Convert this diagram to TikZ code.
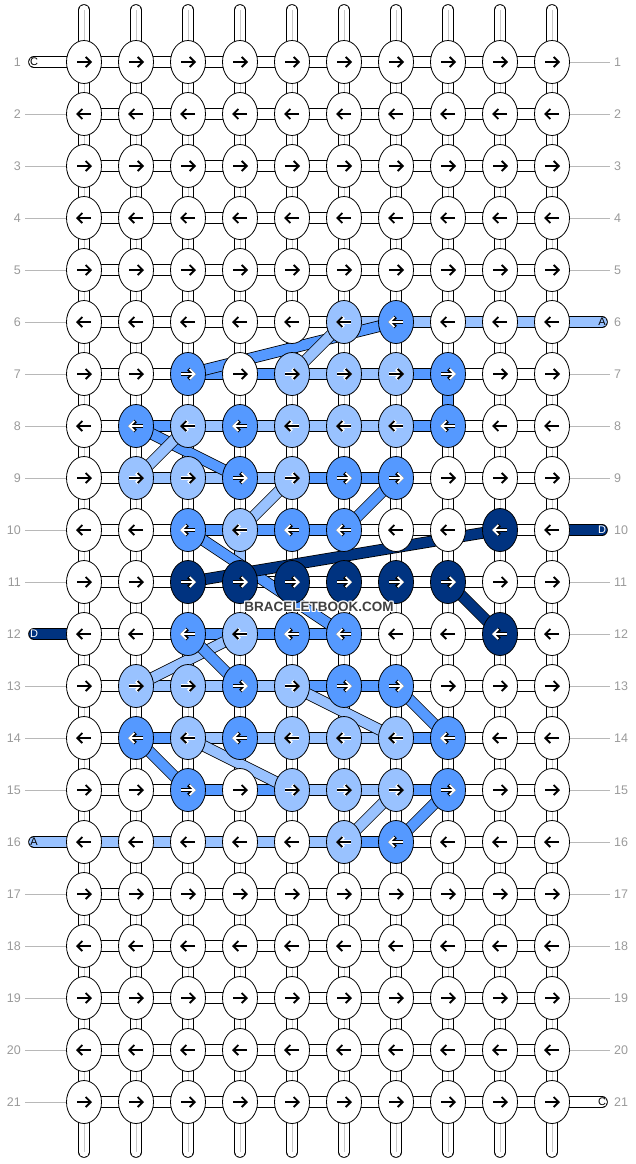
\documentclass[tikz,border=0pt]{standalone}
\usepackage{fontspec}
\setmainfont{Liberation Sans}
\usetikzlibrary{shapes.geometric,arrows.meta}
\definecolor{kW}{HTML}{FFFFFF}
\definecolor{kL}{HTML}{99C2FF}
\definecolor{kM}{HTML}{5599FF}
\definecolor{kN}{HTML}{003380}
\colorlet{haloW}{white}\colorlet{haloL}{white}
\colorlet{haloM}{black}\colorlet{haloN}{black}
\colorlet{arrW}{black}\colorlet{arrL}{black}
\colorlet{arrM}{white}\colorlet{arrN}{white}
\definecolor{labgray}{HTML}{9A9A9A}
\tikzset{
  knot/.style={ellipse, draw, line width=0.8pt, minimum width=35pt, minimum height=43pt, inner sep=0pt},
  tube/.style={double=#1, double distance=10pt, line width=0.8pt},
  tubemid/.style={draw=black!22, line width=0.6pt},
  arrhalo/.style={draw=halo#1, line width=3.6pt, -{Straight Barb[length=5pt,width=10pt]}},
  arrbody/.style={draw=arr#1, line width=1.8pt, -{Straight Barb[length=5pt,width=10pt]}},
  rowno/.style={text=labgray, font=\fontsize{12.5}{12.5}\selectfont, inner sep=0pt},
  labline/.style={draw=labgray!70, line width=0.7pt},
  endlab/.style={font=\fontsize{11}{11}\selectfont, inner sep=0pt},
  wm/.style={font=\fontsize{13.5}{13.5}\selectfont\bfseries, inner sep=0pt}
}
% knot colours / strand colours between neighbouring knots, row by row
\def\patternrows{
  1/{W,W,W,W,W,W,W,W,W,W}/{W,W,W,W,W,W,W,W,W},
  2/{W,W,W,W,W,W,W,W,W,W}/{W,W,W,W,W,W,W,W,W},
  3/{W,W,W,W,W,W,W,W,W,W}/{W,W,W,W,W,W,W,W,W},
  4/{W,W,W,W,W,W,W,W,W,W}/{W,W,W,W,W,W,W,W,W},
  5/{W,W,W,W,W,W,W,W,W,W}/{W,W,W,W,W,W,W,W,W},
  6/{W,W,W,W,W,L,M,W,W,W}/{W,W,W,W,W,L,L,L,L},
  7/{W,W,M,W,L,L,L,M,W,W}/{W,W,M,M,L,L,M,W,W},
  8/{W,M,L,M,L,L,L,M,W,W}/{W,M,L,L,L,L,M,W,W},
  9/{W,L,L,M,L,M,M,W,W,W}/{W,L,L,L,M,M,W,W,W},
  10/{W,W,M,L,M,M,W,W,N,W}/{W,W,M,M,M,W,W,W,W},
  11/{W,W,N,N,N,N,N,N,W,W}/{W,W,W,W,W,W,W,W,W},
  12/{W,W,M,L,M,M,W,W,N,W}/{W,W,M,M,M,W,W,W,W},
  13/{W,L,L,M,L,M,M,W,W,W}/{W,L,L,L,M,M,W,W,W},
  14/{W,M,L,M,L,L,L,M,W,W}/{W,M,L,L,L,L,M,W,W},
  15/{W,W,M,W,L,L,L,M,W,W}/{W,W,M,M,L,L,M,W,W},
  16/{W,W,W,W,W,L,M,W,W,W}/{L,L,L,L,L,M,W,W,W},
  17/{W,W,W,W,W,W,W,W,W,W}/{W,W,W,W,W,W,W,W,W},
  18/{W,W,W,W,W,W,W,W,W,W}/{W,W,W,W,W,W,W,W,W},
  19/{W,W,W,W,W,W,W,W,W,W}/{W,W,W,W,W,W,W,W,W},
  20/{W,W,W,W,W,W,W,W,W,W}/{W,W,W,W,W,W,W,W,W},
  21/{W,W,W,W,W,W,W,W,W,W}/{W,W,W,W,W,W,W,W,W}}
\begin{document}
\begin{tikzpicture}[x=1pt,y=-1pt]
  \useasboundingbox (0,0) rectangle (636,1164);
  % knot centres and loose ends
  \foreach \r in {1,...,21}
    \foreach \c in {1,...,10}
      \coordinate (k-\r-\c) at ({84+52*(\c-1)},{62+52*(\r-1)});
  \foreach \c in {1,...,10} {
    \coordinate (top-\c) at ({84+52*(\c-1)},10);
    \coordinate (bot-\c) at ({84+52*(\c-1)},1152);
  }
  \foreach \r in {1,12,16} \coordinate (el-\r) at (34,{62+52*(\r-1)});
  \foreach \r in {6,10,21} \coordinate (er-\r) at (602,{62+52*(\r-1)});
  % warp strands
  \foreach \c in {1,...,10} {
    \draw[tube=white, line cap=round] (top-\c) -- (k-1-\c);
    \draw[tube=white, line cap=round] (k-21-\c) -- (bot-\c);
    \draw[tubemid] (top-\c) -- (k-1-\c);
    \draw[tubemid] (k-21-\c) -- (bot-\c);
  }
  \foreach \r in {1,...,20} {
    \pgfmathtruncatemacro\rn{\r+1}
    \foreach \c in {1,...,10} {
      \draw[tube=white] (k-\r-\c) -- (k-\rn-\c);
      \draw[tubemid] (k-\r-\c) -- (k-\rn-\c);
    }
  }
  \draw[tube=kM] (k-7-8) -- (k-8-8);
  \draw[tube=kL] (k-10-4) -- (k-11-4);
  % working strands
  \foreach \r/\ks/\ss in \patternrows {
    \foreach \s [count=\c] in \ss {
      \pgfmathtruncatemacro\cn{\c+1}
      \draw[tube=k\s] (k-\r-\c) -- (k-\r-\cn);
    }
  }
  \foreach \r/\col in {1/kW, 12/kN, 16/kL}
    \draw[tube=\col, line cap=round] (el-\r) -- (k-\r-1);
  \foreach \r/\col in {6/kL, 10/kN, 21/kW}
    \draw[tube=\col, line cap=round] (k-\r-10) -- (er-\r);
  % jumps
  \foreach \a/\b/\col in {7-3/6-7/kM, 6-6/7-5/kL, 8-2/9-4/kM, 8-3/9-2/kL,
      9-5/10-4/kL, 9-7/10-6/kM, 10-3/12-6/kM, 10-9/11-3/kN, 11-8/12-9/kN,
      12-4/13-2/kL, 12-3/13-4/kM, 13-5/14-7/kL, 13-7/14-8/kM,
      14-2/15-3/kM, 14-3/15-5/kL, 15-7/16-6/kL, 15-8/16-7/kM}
    \draw[tube=\col] (k-\a) -- (k-\b);
  % knots with arrows
  \foreach \r/\ks/\ss in \patternrows {
    \ifodd\r \def\kdir{1}\else \def\kdir{-1}\fi
    \foreach \k [count=\c] in \ks {
      \node[knot, fill=k\k] (kn-\r-\c) at (k-\r-\c) {};
      \draw[arrhalo=\k] ([xshift={-7*\kdir}]kn-\r-\c.center) -- ([xshift={8*\kdir}]kn-\r-\c.center);
      \draw[arrbody=\k] ([xshift={-7*\kdir}]kn-\r-\c.center) -- ([xshift={8*\kdir}]kn-\r-\c.center);
    }
    \node[rowno, anchor=east] (nl-\r) at (21,{62+52*(\r-1)}) {\r};
    \node[rowno, anchor=west] (nr-\r) at (614,{62+52*(\r-1)}) {\r};
  }
  \foreach \r/\txt/\tc in {1/C/black, 12/D/white, 16/A/black}
    \node[endlab, text=\tc] (ell-\r) at (el-\r) {\txt};
  \foreach \r/\txt/\tc in {6/A/black, 10/D/white, 21/C/black}
    \node[endlab, text=\tc] (elr-\r) at (er-\r) {\txt};
  \foreach \r in {2,...,11,13,14,15,17,18,19,20,21}
    \draw[labline, shorten <=4pt] (nl-\r.east) -- (kn-\r-1);
  \foreach \r in {1,...,5,7,8,9,11,12,...,20}
    \draw[labline, shorten >=4pt] (kn-\r-10) -- (nr-\r.west);
  % watermark
  \foreach \dx/\dy [count=\i] in {-1/0,1/0,0/-1,0/1,-1/-1,1/1,-1/1,1/-1}
    \node[wm, text=white] (wmh-\i) at ({319+\dx},{607+\dy}) {BRACELETBOOK.COM};
  \node[wm, text=black!75] (wm) at (319,607) {BRACELETBOOK.COM};
\end{tikzpicture}
\end{document}
